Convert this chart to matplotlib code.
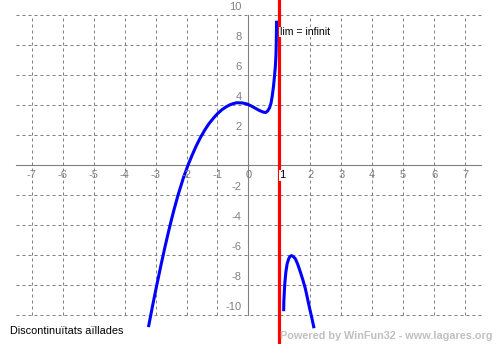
import matplotlib
matplotlib.use("Agg")
import matplotlib.pyplot as plt

plt.rcParams['font.family'] = ['Liberation Sans', 'DejaVu Sans']

# curve: branch left of the asymptote and branch right of it
left_x = [-3.22, -3.10, -2.97, -2.83, -2.70, -2.61, -2.52, -2.40, -2.27, -2.10, -1.95,
          -1.82, -1.68, -1.55, -1.41, -1.28, -1.14, -1.00, -0.86, -0.72, -0.59, -0.48,
          -0.38, -0.20, -0.05, 0.08, 0.22, 0.35, 0.49, 0.56, 0.62, 0.68, 0.73, 0.77,
          0.81, 0.84, 0.87, 0.89, 0.90, 0.91]
left_y = [-10.7, -9.42, -8.1, -6.72, -5.5, -4.7, -3.92, -2.95, -1.98, -0.85, 0.0,
          0.65, 1.3, 1.83, 2.33, 2.74, 3.1, 3.42, 3.68, 3.88, 4.02, 4.1,
          4.15, 4.14, 4.07, 3.95, 3.79, 3.64, 3.52, 3.5, 3.6, 3.8, 4.12, 4.6,
          5.22, 5.85, 6.54, 7.3, 8.09, 9.52]
right_x = [1.14, 1.145, 1.16, 1.18, 1.21, 1.25, 1.30, 1.34, 1.39, 1.45, 1.52, 1.60,
           1.68, 1.76, 1.84, 1.91, 1.98, 2.05, 2.11]
right_y = [-9.64, -9.1, -8.46, -7.8, -7.14, -6.6, -6.26, -6.1, -6.04, -6.1, -6.26, -6.65,
           -7.14, -7.66, -8.24, -8.9, -9.57, -10.2, -10.78]

asymptote_x = 1
x_ticks = [-7, -6, -5, -4, -3, -2, -1, 0, 1, 2, 3, 4, 5, 6, 7]
y_ticks = [10, 8, 6, 4, 2, -2, -4, -6, -8, -10]
lim_label = "lim = infinit"
title = "Discontinuïtats aïllades"
credit = "Powered by WinFun32 - www.lagares.org"

gray = '#808080'
dash = (0, (3, 3))

fig = plt.figure(figsize=(4.96, 3.44), dpi=100)
ax = fig.add_axes([0, 0, 1, 1])
ax.set_xlim(-8.026, 8.0)
ax.set_ylim(-11.93, 11.0)
ax.axis('off')

# dashed grid
ax.hlines(y_ticks, -7.5, 7.5, colors=gray, linestyles=dash, lw=0.72)
ax.vlines([x for x in x_ticks if x != 0], -10, 10, colors=gray, linestyles=dash, lw=0.72)
# axes
ax.plot([-7.5, 7.5], [0, 0], color=gray, lw=0.8)
ax.plot([0, 0], [-10, 10], color=gray, lw=0.8)

# tick labels
for x in x_ticks:
    if x == asymptote_x:
        ax.text(x, -0.68, str(x), ha='left', va='center', fontsize=8, color='black',
                bbox=dict(facecolor='white', edgecolor='none', pad=0.3), zorder=5)
    else:
        ax.text(x, -0.68, str(x), ha='center', va='center', fontsize=8, color=gray)
for y in y_ticks:
    ax.text(-0.22, y + 0.53, str(y), ha='right', va='center', fontsize=8, color=gray)

# function
ax.plot(left_x, left_y, color='#0000ff', lw=2.2, solid_joinstyle='round', clip_on=False)
ax.plot(right_x, right_y, color='#0000ff', lw=2.2, solid_joinstyle='round', clip_on=False)

# vertical asymptote
ax.axvline(asymptote_x, color='#ff0000', lw=2.3, zorder=4)
ax.text(asymptote_x + 0.01, 8.87, lim_label, ha='left', va='center', fontsize=7.6,
        color='black', bbox=dict(facecolor='white', edgecolor='none', pad=0.2), zorder=5)

fig.text(10 / 496, 1 - 331 / 344, title, ha='left', va='center', fontsize=7.8, color='black')
fig.text(493 / 496, 1 - 336 / 344, credit, ha='right', va='center', fontsize=7.8,
         color='#c0c0c0', fontweight='bold')

fig.savefig("out.png", dpi=100)
